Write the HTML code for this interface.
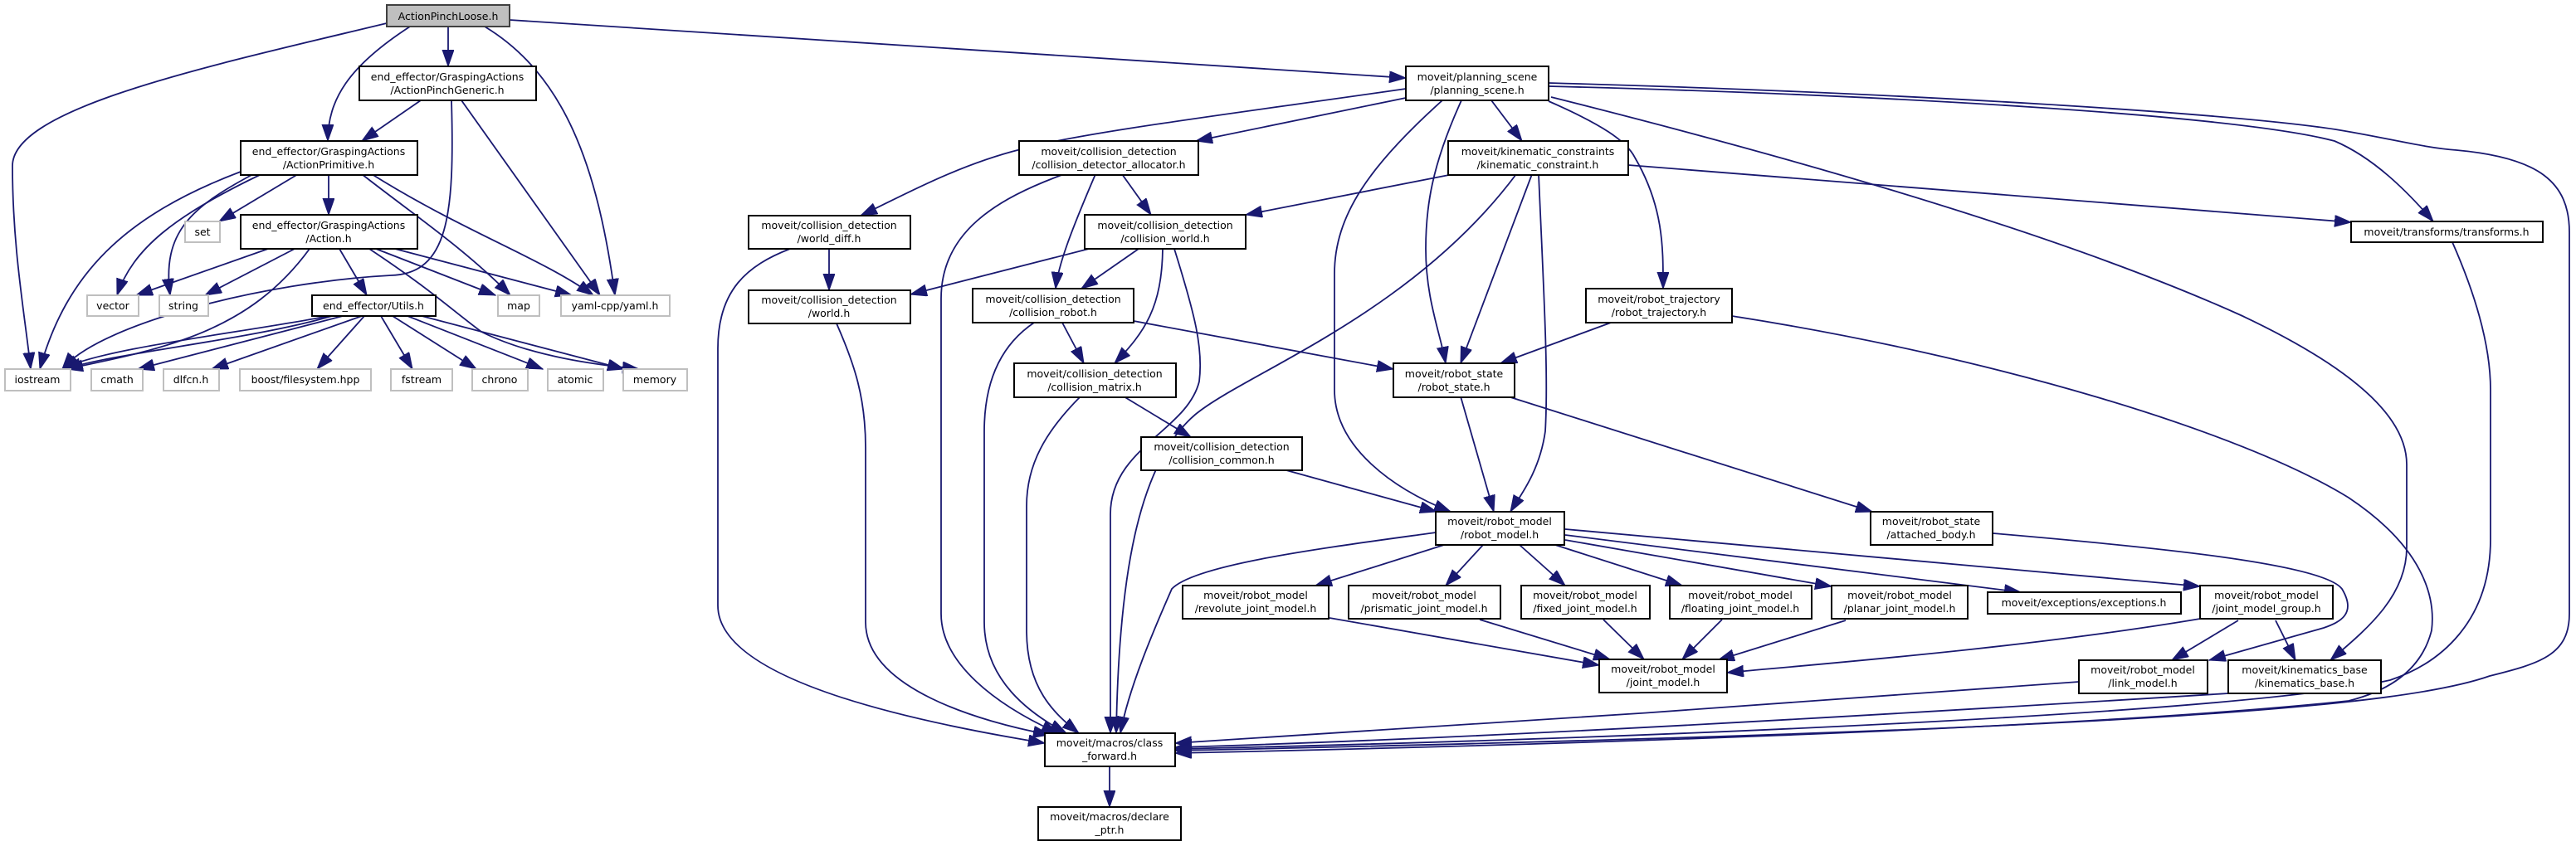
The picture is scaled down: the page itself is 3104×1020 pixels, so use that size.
<!DOCTYPE html>
<html><head><meta charset="utf-8"><style>
html,body{margin:0;padding:0;background:#fff;}
svg{display:block;}
text{font-family:"DejaVu Sans","Liberation Sans",sans-serif;font-size:12.5px;fill:#000;text-anchor:middle;}
.e{fill:none;stroke:#191970;stroke-width:1.8;marker-end:url(#a);}
.n{fill:#fff;stroke:#000;stroke-width:2;}
.g{fill:#fff;stroke:#bfbfbf;stroke-width:2;}
</style></head><body>
<svg width="3104" height="1020" viewBox="0 0 3104 1020" xmlns="http://www.w3.org/2000/svg">
<defs><marker id="a" markerUnits="userSpaceOnUse" markerWidth="22" markerHeight="16" refX="20" refY="7" orient="auto"><path d="M0,0 L20,7 L0,14 z" fill="#191970" stroke="#191970"/></marker></defs>
<g>
<path class="e" d="M466,28 C250,80 15,130 15,200 C15,300 30,380 37,445"/>
<path class="e" d="M494,32 C420,80 395,120 395,170"/>
<path class="e" d="M540,32 L540,80"/>
<path class="e" d="M584,32 C680,90 720,200 741,356"/>
<path class="e" d="M614,24 L1694,94"/>
<path class="e" d="M507,121 L436,170"/>
<path class="e" d="M544,121 C548,260 540,330 471,332 C320,340 120,390 75,445"/>
<path class="e" d="M556,121 L723,356"/>
<path class="e" d="M290,207 C150,260 80,330 48,445"/>
<path class="e" d="M315,210 C210,260 160,300 141,356"/>
<path class="e" d="M305,210 C230,250 195,280 205,356"/>
<path class="e" d="M359,210 L264,267"/>
<path class="e" d="M396,211 L396,259"/>
<path class="e" d="M436,210 C500,260 560,300 615,356"/>
<path class="e" d="M448,210 C560,280 650,310 715,356"/>
<path class="e" d="M323,300 L164,356"/>
<path class="e" d="M355,300 L247,356"/>
<path class="e" d="M373,300 C300,400 200,420 80,445"/>
<path class="e" d="M409,300 L442,356"/>
<path class="e" d="M453,300 L597,356"/>
<path class="e" d="M476,300 L689,356"/>
<path class="e" d="M445,300 C520,350 540,370 580,400 C640,430 720,440 770,445"/>
<path class="e" d="M396,381 C300,400 120,420 75,445"/>
<path class="e" d="M400,381 C300,410 140,425 78,445"/>
<path class="e" d="M413,381 L166,445"/>
<path class="e" d="M436,381 L255,445"/>
<path class="e" d="M439,381 L382,445"/>
<path class="e" d="M459,381 L497,445"/>
<path class="e" d="M473,381 L574,445"/>
<path class="e" d="M491,381 L654,445"/>
<path class="e" d="M508,381 L752,445"/>
<path class="e" d="M1694,107 C1500,135 1300,160 1230,180 C1150,200 1080,240 1037,260"/>
<path class="e" d="M1694,118 L1441,170"/>
<path class="e" d="M1738,121 C1650,200 1608,260 1608,330 L1608,470 C1608,540 1680,590 1748,617"/>
<path class="e" d="M1761,121 C1725,200 1718,250 1718,300 C1718,360 1735,400 1742,438"/>
<path class="e" d="M1797,121 L1834,170"/>
<path class="e" d="M1866,122 C1930,150 1960,170 1970,190 C2005,250 2004,300 2004,348"/>
<path class="e" d="M1869,117 C2200,200 2500,290 2700,380 C2870,460 2900,520 2900,560 L2900,660 C2900,720 2850,760 2808,796"/>
<path class="e" d="M1866,104 C2300,115 2700,140 2813,170 C2860,190 2900,230 2932,267"/>
<path class="e" d="M1866,100 C2300,112 2700,137 2820,157 C2880,167 2920,178 2960,181 C3060,190 3096,220 3096,280 L3096,740 C3096,790 3060,800 3000,815 C2900,850 2600,880 1416,905"/>
<path class="e" d="M1751,210 L1501,259"/>
<path class="e" d="M1827,210 C1700,380 1500,450 1440,500 C1370,560 1348,700 1345,884"/>
<path class="e" d="M1846,210 L1760,438"/>
<path class="e" d="M1854,210 C1860,350 1866,450 1862,520 C1855,570 1830,600 1820,617"/>
<path class="e" d="M1962,199 L2833,268"/>
<path class="e" d="M1282,210 C1200,240 1134,280 1134,360 L1134,740 C1134,800 1200,850 1275,884"/>
<path class="e" d="M1320,210 C1290,280 1275,320 1272,348"/>
<path class="e" d="M1352,210 L1387,259"/>
<path class="e" d="M1312,300 L1097,355"/>
<path class="e" d="M1372,300 L1303,348"/>
<path class="e" d="M1401,300 C1400,370 1380,400 1343,438"/>
<path class="e" d="M1415,300 C1440,380 1450,420 1445,460 C1430,520 1338,540 1338,620 L1338,884"/>
<path class="e" d="M999,300 L999,350"/>
<path class="e" d="M952,300 C900,320 865,350 865,420 L865,730 C865,820 1100,870 1259,896"/>
<path class="e" d="M1008,390 C1030,440 1043,480 1043,540 L1043,750 C1043,830 1180,870 1265,886"/>
<path class="e" d="M1366,387 L1679,445"/>
<path class="e" d="M1280,389 L1306,438"/>
<path class="e" d="M1246,389 C1200,420 1186,470 1186,520 L1186,750 C1186,820 1240,860 1285,884"/>
<path class="e" d="M1354,478 L1435,527"/>
<path class="e" d="M1302,478 C1260,520 1237,560 1237,610 L1237,760 C1237,830 1270,860 1300,884"/>
<path class="e" d="M1550,567 L1731,617"/>
<path class="e" d="M1941,389 L1808,438"/>
<path class="e" d="M2087,381 C2400,430 2700,520 2830,600 C2920,660 2935,720 2930,760 C2920,800 2890,830 2830,845 C2500,880 1800,900 1416,908"/>
<path class="e" d="M1760,478 L1800,617"/>
<path class="e" d="M1817,478 L2256,617"/>
<path class="e" d="M1337,924 L1337,973"/>
<path class="e" d="M1730,642 C1600,660 1440,680 1412,710 C1390,760 1360,830 1350,884"/>
<path class="e" d="M1740,657 L1585,706"/>
<path class="e" d="M1787,657 L1742,706"/>
<path class="e" d="M1831,657 L1886,706"/>
<path class="e" d="M1874,657 L2027,706"/>
<path class="e" d="M1886,651 L2207,707"/>
<path class="e" d="M1886,645 L2435,714"/>
<path class="e" d="M1886,638 L2651,707"/>
<path class="e" d="M1602,745 L1927,802"/>
<path class="e" d="M1783,747 L1940,795"/>
<path class="e" d="M1932,747 L1981,795"/>
<path class="e" d="M2075,747 L2027,795"/>
<path class="e" d="M2224,748 L2070,796"/>
<path class="e" d="M2651,746 C2450,780 2200,800 2081,811"/>
<path class="e" d="M2697,748 L2617,796"/>
<path class="e" d="M2742,748 L2766,796"/>
<path class="e" d="M2401,643 C2600,660 2800,680 2822,710 C2840,740 2820,750 2800,757 L2662,796"/>
<path class="e" d="M2505,822 C2200,845 1700,880 1416,896"/>
<path class="e" d="M2685,836 C2300,860 1800,890 1416,901"/>
<path class="e" d="M2955,292 C2985,360 3001,420 3001,470 L3001,650 C3001,750 2940,800 2880,820 C2700,860 2000,890 1416,903"/>
</g>
<g>
<rect x="466" y="6" width="148" height="26" fill="#bfbfbf" stroke="#404040" stroke-width="2"/><text x="540" y="24">ActionPinchLoose.h</text>
<rect class="n" x="433" y="80" width="213" height="41"/><text x="539" y="97">end_effector/GraspingActions</text><text x="539" y="113">/ActionPinchGeneric.h</text>
<rect class="n" x="290" y="170" width="213" height="41"/><text x="396" y="187">end_effector/GraspingActions</text><text x="396" y="203">/ActionPrimitive.h</text>
<rect class="n" x="290" y="259" width="213" height="41"/><text x="396" y="276">end_effector/GraspingActions</text><text x="396" y="292">/Action.h</text>
<rect class="g" x="223" y="267" width="42" height="25"/><text x="244" y="284">set</text>
<rect class="g" x="105" y="356" width="62" height="25"/><text x="136" y="373">vector</text>
<rect class="g" x="192" y="356" width="59" height="25"/><text x="221" y="373">string</text>
<rect class="n" x="376" y="356" width="149" height="25"/><text x="450" y="373">end_effector/Utils.h</text>
<rect class="g" x="600" y="356" width="50" height="25"/><text x="625" y="373">map</text>
<rect class="g" x="676" y="356" width="131" height="25"/><text x="741" y="373">yaml-cpp/yaml.h</text>
<rect class="g" x="6" y="445" width="79" height="26"/><text x="45" y="462">iostream</text>
<rect class="g" x="110" y="445" width="62" height="26"/><text x="141" y="462">cmath</text>
<rect class="g" x="197" y="445" width="67" height="26"/><text x="230" y="462">dlfcn.h</text>
<rect class="g" x="289" y="445" width="158" height="26"/><text x="368" y="462">boost/filesystem.hpp</text>
<rect class="g" x="471" y="445" width="74" height="26"/><text x="508" y="462">fstream</text>
<rect class="g" x="569" y="445" width="67" height="26"/><text x="602" y="462">chrono</text>
<rect class="g" x="660" y="445" width="67" height="26"/><text x="693" y="462">atomic</text>
<rect class="g" x="751" y="445" width="77" height="26"/><text x="789" y="462">memory</text>
<rect class="n" x="1694" y="80" width="172" height="41"/><text x="1780" y="97">moveit/planning_scene</text><text x="1780" y="113">/planning_scene.h</text>
<rect class="n" x="1228" y="170" width="216" height="41"/><text x="1336" y="187">moveit/collision_detection</text><text x="1336" y="203">/collision_detector_allocator.h</text>
<rect class="n" x="1745" y="170" width="217" height="41"/><text x="1853" y="187">moveit/kinematic_constraints</text><text x="1853" y="203">/kinematic_constraint.h</text>
<rect class="n" x="902" y="260" width="195" height="40"/><text x="999" y="276">moveit/collision_detection</text><text x="999" y="292">/world_diff.h</text>
<rect class="n" x="1307" y="259" width="194" height="41"/><text x="1404" y="276">moveit/collision_detection</text><text x="1404" y="292">/collision_world.h</text>
<rect class="n" x="902" y="350" width="195" height="40"/><text x="999" y="366">moveit/collision_detection</text><text x="999" y="382">/world.h</text>
<rect class="n" x="1172" y="348" width="194" height="41"/><text x="1269" y="365">moveit/collision_detection</text><text x="1269" y="381">/collision_robot.h</text>
<rect class="n" x="1911" y="348" width="176" height="41"/><text x="1999" y="365">moveit/robot_trajectory</text><text x="1999" y="381">/robot_trajectory.h</text>
<rect class="n" x="1222" y="438" width="195" height="41"/><text x="1319" y="455">moveit/collision_detection</text><text x="1319" y="471">/collision_matrix.h</text>
<rect class="n" x="1679" y="438" width="146" height="41"/><text x="1752" y="455">moveit/robot_state</text><text x="1752" y="471">/robot_state.h</text>
<rect class="n" x="2833" y="267" width="231" height="25"/><text x="2948" y="284">moveit/transforms/transforms.h</text>
<rect class="n" x="1375" y="527" width="194" height="40"/><text x="1472" y="543">moveit/collision_detection</text><text x="1472" y="559">/collision_common.h</text>
<rect class="n" x="2254" y="617" width="147" height="40"/><text x="2327" y="633">moveit/robot_state</text><text x="2327" y="649">/attached_body.h</text>
<rect class="n" x="1730" y="617" width="155" height="40"/><text x="1807" y="633">moveit/robot_model</text><text x="1807" y="649">/robot_model.h</text>
<rect class="n" x="1425" y="706" width="176" height="40"/><text x="1513" y="722">moveit/robot_model</text><text x="1513" y="738">/revolute_joint_model.h</text>
<rect class="n" x="1625" y="706" width="183" height="40"/><text x="1716" y="722">moveit/robot_model</text><text x="1716" y="738">/prismatic_joint_model.h</text>
<rect class="n" x="1833" y="706" width="155" height="40"/><text x="1910" y="722">moveit/robot_model</text><text x="1910" y="738">/fixed_joint_model.h</text>
<rect class="n" x="2012" y="706" width="171" height="40"/><text x="2097" y="722">moveit/robot_model</text><text x="2097" y="738">/floating_joint_model.h</text>
<rect class="n" x="2207" y="706" width="164" height="40"/><text x="2289" y="722">moveit/robot_model</text><text x="2289" y="738">/planar_joint_model.h</text>
<rect class="n" x="2395" y="714" width="233" height="26"/><text x="2511" y="731">moveit/exceptions/exceptions.h</text>
<rect class="n" x="2651" y="706" width="160" height="40"/><text x="2731" y="722">moveit/robot_model</text><text x="2731" y="738">/joint_model_group.h</text>
<rect class="n" x="1927" y="795" width="154" height="40"/><text x="2004" y="811">moveit/robot_model</text><text x="2004" y="827">/joint_model.h</text>
<rect class="n" x="2505" y="796" width="155" height="40"/><text x="2582" y="812">moveit/robot_model</text><text x="2582" y="828">/link_model.h</text>
<rect class="n" x="2685" y="796" width="184" height="40"/><text x="2777" y="812">moveit/kinematics_base</text><text x="2777" y="828">/kinematics_base.h</text>
<rect class="n" x="1259" y="884" width="157" height="40"/><text x="1337" y="900">moveit/macros/class</text><text x="1337" y="916">_forward.h</text>
<rect class="n" x="1251" y="973" width="172" height="40"/><text x="1337" y="989">moveit/macros/declare</text><text x="1337" y="1005">_ptr.h</text>
</g>
</svg>
</body></html>
